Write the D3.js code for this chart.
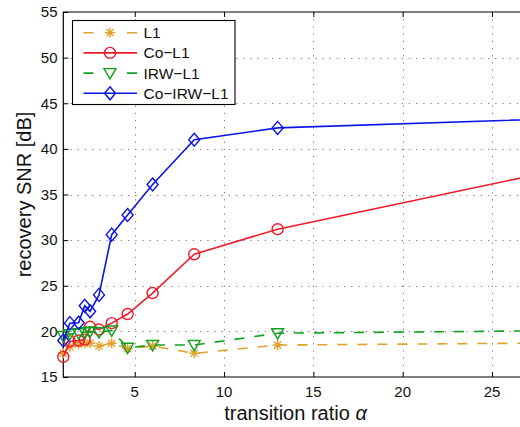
<!DOCTYPE html>
<html>
<head>
<meta charset="utf-8">
<script src="https://cdn.jsdelivr.net/npm/d3@7"></script>
<style>
  body { margin: 0; background: #fff; }
  text { font-family: "Liberation Sans", Arial, sans-serif; fill: #111; }
</style>
</head>
<body>
<div id="GRAPH_SVG"></div>
<script>
const WIDTH = 520;
const HEIGHT = 427;

// data (last point lies past the right edge, estimated)
const alpha = [1, 1.37, 1.86, 2.2, 2.5, 3.0, 3.71, 4.6, 6.0, 8.33, 13.0, 30];
const snrL1 = [17.6, 18.3, 18.6, 18.7, 18.7, 18.4, 18.7, 18.1, 18.4, 17.6, 18.5, 18.75];
const snrCoL1 = [17.2, 18.9, 19.0, 19.1, 20.5, 20.2, 20.9, 21.9, 24.2, 28.45, 31.2, 38.2];
const snrIRWL1 = [19.5, 19.7, 19.8, 19.9, 20.0, 19.9, 20.1, 18.2, 18.5, 18.5, 19.8, 20.1];
const snrCoIRWL1 = [19.0, 20.9, 20.95, 22.8, 22.2, 24.0, 30.6, 32.75, 36.1, 41.0, 42.3, 43.4];

const seriesNames = ["L1", "Co\u2212L1", "IRW\u2212L1", "Co\u2212IRW\u2212L1"];
const xTicks = [5, 10, 15, 20, 25];
const yTicks = [15, 20, 25, 30, 35, 40, 45, 50, 55];

const XDOMAIN = [1, 27];
const YDOMAIN = [15, 55];

const LEFT = 63.3, RIGHT = 527.7, TOP = 12, BOTTOM = 377;

const series = [
   {name: seriesNames[0], y: snrL1, color: "#e3a12b", dash: "10,10", marker: "asterisk"},
   {name: seriesNames[1], y: snrCoL1, color: "#ee1a2a", dash: null, marker: "circle"},
   {name: seriesNames[2], y: snrIRWL1, color: "#12a01c", dash: "10,10", marker: "triangle"},
   {name: seriesNames[3], y: snrCoIRWL1, color: "#0a14e6", dash: null, marker: "diamond"}
];

const MARKERS = {
   asterisk: "M-5,0H5M0,-5V5M-3.6,-3.6L3.6,3.6M-3.6,3.6L3.6,-3.6",
   circle: "M5.5,0A5.5,5.5 0 1,1 -5.5,0A5.5,5.5 0 1,1 5.5,0Z",
   triangle: "M-6,-4.5H6L0,5.8Z",
   diamond: "M0,-6.5L5.5,0L0,6.5L-5.5,0Z"
};

const svg = d3.select("#GRAPH_SVG").append("svg")
   .attr("width", WIDTH)
   .attr("height", HEIGHT);

svg.append("rect")
   .attr("width", WIDTH)
   .attr("height", HEIGHT)
   .attr("fill", "#fff");

const xScale = d3.scaleLinear().domain(XDOMAIN).range([LEFT, RIGHT]);
const yScale = d3.scaleLinear().domain(YDOMAIN).range([BOTTOM, TOP]);

// grid
const grid = svg.append("g")
   .attr("stroke", "#777")
   .attr("stroke-width", 1)
   .attr("stroke-dasharray", "1.2,6");

grid.selectAll(".vgrid")
   .data(xTicks)
   .join("line")
   .attr("x1", d => Math.round(xScale(d)) + 0.5)
   .attr("x2", d => Math.round(xScale(d)) + 0.5)
   .attr("y1", TOP)
   .attr("y2", BOTTOM);

grid.selectAll(".hgrid")
   .data(yTicks.slice(1, -1))
   .join("line")
   .attr("x1", LEFT)
   .attr("x2", RIGHT)
   .attr("y1", d => Math.round(yScale(d)) + 0.5)
   .attr("y2", d => Math.round(yScale(d)) + 0.5);

// axes (ticks point inward, like matlab)
const xAxis = svg.append("g")
   .attr("transform", "translate(0," + BOTTOM + ")")
   .call(d3.axisTop(xScale).tickValues(xTicks).tickSize(5).tickFormat(""));
xAxis.select(".domain").remove();

svg.append("g")
   .attr("transform", "translate(0," + TOP + ")")
   .call(d3.axisBottom(xScale).tickValues(xTicks).tickSize(5).tickFormat(""))
   .select(".domain").remove();

svg.selectAll(".xlabel")
   .data(xTicks)
   .join("text")
   .attr("x", d => xScale(d))
   .attr("y", 397)
   .attr("text-anchor", "middle")
   .style("font-size", "15px")
   .text(d => d);

const yAxis = svg.append("g")
   .attr("transform", "translate(" + LEFT + ",0)")
   .call(d3.axisRight(yScale).tickValues(yTicks).tickSize(5).tickFormat(""));
yAxis.select(".domain").remove();

svg.selectAll(".ylabel")
   .data(yTicks)
   .join("text")
   .attr("x", 57.5)
   .attr("y", d => yScale(d) + 5.3)
   .attr("text-anchor", "end")
   .style("font-size", "15px")
   .text(d => d);

// box
svg.append("path")
   .attr("d", "M" + RIGHT + "," + TOP + "H" + LEFT + "V" + BOTTOM + "H" + RIGHT)
   .attr("fill", "none")
   .attr("stroke", "#000")
   .attr("stroke-width", 1.2);

// axis titles
const xt = svg.append("text")
   .attr("x", (LEFT + RIGHT) / 2)
   .attr("y", 420)
   .attr("text-anchor", "middle")
   .style("font-size", "20px")
   .text("transition ratio ");
xt.append("tspan").style("font-style", "italic").text("\u03b1");

svg.append("text")
   .attr("transform", "translate(31," + (TOP + BOTTOM) / 2 + ") rotate(-90)")
   .attr("text-anchor", "middle")
   .style("font-size", "20px")
   .text("recovery SNR [dB]");

// lines and markers
const line = d3.line()
   .x((d, i) => xScale(alpha[i]))
   .y(d => yScale(d));

series.forEach(s => {
   svg.append("path")
      .datum(s.y)
      .attr("d", line)
      .attr("fill", "none")
      .attr("stroke", s.color)
      .attr("stroke-width", 1.6)
      .attr("stroke-dasharray", s.dash);

   svg.selectAll(null)
      .data(s.y)
      .join("path")
      .attr("transform", (d, i) => "translate(" + xScale(alpha[i]) + "," + yScale(d) + ")")
      .attr("d", MARKERS[s.marker])
      .attr("fill", "none")
      .attr("stroke", s.color)
      .attr("stroke-width", 1.4);
});

// legend
const legend = svg.append("g");
legend.append("rect")
   .attr("x", 72.5)
   .attr("y", 20.5)
   .attr("width", 162.5)
   .attr("height", 84)
   .attr("fill", "#fff")
   .attr("stroke", "#000")
   .attr("stroke-width", 1.1);

const legendY = d3.scaleLinear().domain([0, 3]).range([32.7, 93.3]);

series.forEach((s, i) => {
   const yy = legendY(i);
   legend.append("line")
      .attr("x1", 83.5)
      .attr("x2", 137)
      .attr("y1", yy)
      .attr("y2", yy)
      .attr("stroke", s.color)
      .attr("stroke-width", 1.6)
      .attr("stroke-dasharray", s.dash ? "10,33.5,10" : null);
   legend.append("path")
      .attr("transform", "translate(110," + yy + ")")
      .attr("d", MARKERS[s.marker])
      .attr("fill", "none")
      .attr("stroke", s.color)
      .attr("stroke-width", 1.4);
   legend.append("text")
      .attr("x", 143.5)
      .attr("y", yy + 5.5)
      .style("font-size", "15.5px")
      .text(s.name);
});
</script>
</body>
</html>
